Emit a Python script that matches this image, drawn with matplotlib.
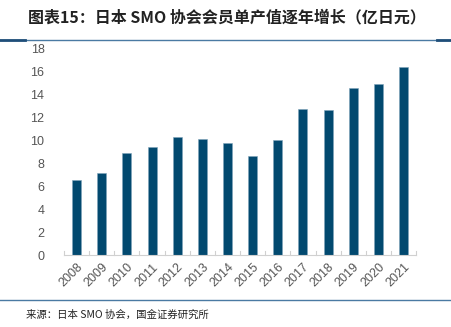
import matplotlib.pyplot as plt
from matplotlib.lines import Line2D

plt.rcParams['font.family'] = ['Noto Sans CJK SC', 'DejaVu Sans']

years = ['2008', '2009', '2010', '2011', '2012', '2013', '2014',
         '2015', '2016', '2017', '2018', '2019', '2020', '2021']
output_per_member = [6.57, 7.15, 8.9, 9.45, 10.37, 10.17, 9.8,
                     8.67, 10.1, 12.75, 12.66, 14.58, 14.93, 16.41]
yticks = [0, 2, 4, 6, 8, 10, 12, 14, 16, 18]

fig = plt.figure(figsize=(4.52, 3.27), dpi=100)
ax = fig.add_axes([0.1416, 0.2187, 0.779, 0.6315])

x = range(len(years))
ax.bar(x, output_per_member, width=0.36, color='#02496f',
       edgecolor='#7fa3bb', linewidth=0.4)

ax.set_xlim(-0.5, len(years) - 0.5)
ax.set_ylim(0, 18)
ax.set_yticks(yticks)
ax.set_xticks(list(x))
ax.set_xticklabels(years, rotation=45, ha='right', rotation_mode='anchor')
ax.tick_params(axis='y', length=0, pad=14, labelsize=9, labelcolor='#555555')
ax.tick_params(axis='x', length=0, pad=4, labelsize=9, labelcolor='#555555')
for lab in ax.get_yticklabels() + ax.get_xticklabels():
    lab.set_family('Liberation Sans')

# category separators sitting on the baseline
for b in [i - 0.5 for i in range(len(years) + 1)]:
    ax.plot([b, b], [0, 0.35], color='#d0d0d0', lw=0.8, clip_on=False)

for s in ['top', 'right', 'left']:
    ax.spines[s].set_visible(False)
ax.spines['bottom'].set_color('#d0d0d0')
ax.spines['bottom'].set_linewidth(0.8)

fig.text(0.062, 0.948, '图表15：日本 SMO 协会会员单产值逐年增长（亿日元）',
         fontsize=11.5, fontweight='bold', color='#222222', va='center')

# rule lines under the title and above the source note
fig.add_artist(Line2D([0, 1], [0.878, 0.878], color='#4a7aa3', lw=1.0))
fig.add_artist(Line2D([0, 0.055], [0.878, 0.878], color='#1f4e79', lw=2.0))
fig.add_artist(Line2D([0.967, 1], [0.878, 0.878], color='#1f4e79', lw=2.0))
fig.add_artist(Line2D([0, 1], [0.083, 0.083], color='#4a7aa3', lw=1.0))

fig.text(0.058, 0.036, '来源：日本 SMO 协会，国金证券研究所',
         fontsize=7.5, color='#222222', va='center')

fig.savefig('out.png', dpi=100)
